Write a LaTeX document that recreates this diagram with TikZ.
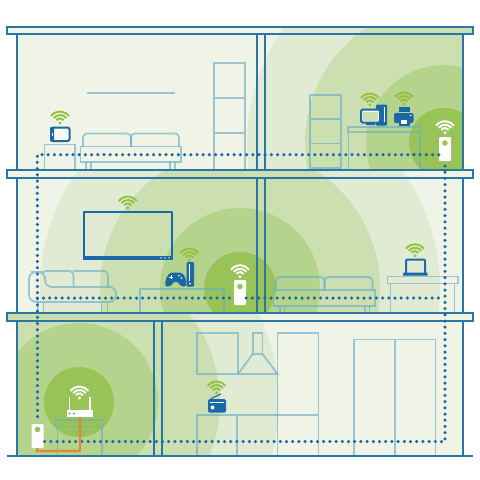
\documentclass[tikz,border=0pt]{standalone}
\usetikzlibrary{decorations.markings}
\definecolor{paleground}{HTML}{EFF4E6}
\definecolor{ringA}{HTML}{E1EBD3}
\definecolor{ringB}{HTML}{CCDFB0}
\definecolor{ringC}{HTML}{B4D38C}
\definecolor{ringD}{HTML}{97C357}
\definecolor{wallblue}{HTML}{2A76A6}
\definecolor{devblue}{HTML}{1A69A6}
\definecolor{furnblue}{HTML}{6BAEC6}
\definecolor{wifigreen}{HTML}{93C13E}
\definecolor{cableorange}{HTML}{E2883A}
\tikzset{
  wall/.style={draw=wallblue,line width=2pt},
  slab/.style={draw=wallblue,line width=2pt},
  furn/.style={draw=furnblue,draw opacity=.65,line width=1.8pt,line join=miter},
  gearline/.style={draw=devblue,line width=2pt,line join=round},
  plc/.style={fill=white,draw=none,rounded corners=1pt},
  powerline/.style={decorate,decoration={markings,
    mark=between positions 0 and 1 step 6.2pt with {\fill[devblue] (0,0) circle[radius=1.75pt];}}},
}
% Wi-Fi symbol: dot centre, colour
\newcommand{\wifisign}[3]{%
  \begin{scope}[shift={(#1,#2)},line cap=butt]
    \fill[#3] (0,0) circle[radius=1.6pt];
    \foreach \r in {4.6,8,11.4}
      \draw[#3,line width=1.9pt] (142:\r pt) arc[start angle=142,end angle=38,radius=\r pt];
  \end{scope}}
% Concentric coverage rings around a point
\newcommand{\coverage}[6]{%
  \fill[ringA] (#1,#2) circle[radius=#6 pt];
  \fill[ringB] (#1,#2) circle[radius=#5 pt];
  \fill[ringC] (#1,#2) circle[radius=#4 pt];
  \fill[ringD] (#1,#2) circle[radius=#3 pt];}
\begin{document}
\begin{tikzpicture}[x=1pt,y=-1pt]
\useasboundingbox (0,0) rectangle (480,480);
\fill[white] (0,0) rectangle (480,480);

% Building interior with the coverage of each storey
\begin{scope}
  \clip (6,26) rectangle (473,34) (16.5,34) rectangle (462.5,169);
  \fill[paleground] (0,0) rectangle (480,480);
  \coverage{444}{143}{35}{78}{139}{197}
\end{scope}
\begin{scope}
  \clip (6,169) rectangle (473,178) (16.5,178) rectangle (462.5,312);
  \fill[paleground] (0,0) rectangle (480,480);
  \coverage{240}{288}{36}{80}{140}{200}
\end{scope}
\begin{scope}
  \clip (6,312) rectangle (473,321) (16.5,321) rectangle (462.5,456);
  \fill[paleground] (0,0) rectangle (480,480);
  \coverage{79}{402}{35}{79}{141}{200}
\end{scope}

% Top storey furniture
\draw[furn] (87,93) -- (175,93);
\draw[furn] (44.5,169) -- (44.5,144.5) -- (75,144.5) -- (75,169);
\draw[furn] (80.5,146.5) rectangle (181,162);
\draw[furn,rounded corners=4pt] (83,146.5) -- (83,133.5) -- (131,133.5) -- (131,146.5);
\draw[furn,rounded corners=4pt] (131,146.5) -- (131,133.5) -- (179,133.5) -- (179,146.5);
\draw[furn] (86,162) -- (86,169) (91,162) -- (91,169) (170,162) -- (170,169) (175,162) -- (175,169);
\draw[furn] (214,169) -- (214,63) -- (245,63) -- (245,169) (214,98) -- (245,98) (214,133) -- (245,133);
\draw[furn] (310,168) rectangle (341,95) (310,119) -- (341,119) (310,143.5) -- (341,143.5);
\draw[furn] (348,127) rectangle (420.5,132) (348.5,132) -- (348.5,169) (420,132) -- (420,169);

% Middle storey furniture
\draw[furn,rounded corners=7pt] (38,272) -- (45,272) -- (45,287) -- (116,287) -- (116,302) -- (29,302) -- (29,272) -- cycle;
\draw[furn,rounded corners=4pt] (45,271) -- (73.5,271) -- (73.5,287);
\draw[furn,rounded corners=4pt] (73.5,271) -- (108,271) -- (108,287);
\draw[furn] (43.5,302) -- (43.5,312) (38,302) -- (38,312) (101.5,302) -- (101.5,312) (107.5,302) -- (107.5,312);
\draw[furn] (140,312) -- (140,289) -- (224,289) -- (224,312);
\draw[furn] (273.5,290) rectangle (375,306);
\draw[furn,rounded corners=4pt] (276,290) -- (276,277) -- (324.5,277) -- (324.5,290);
\draw[furn,rounded corners=4pt] (324.5,290) -- (324.5,277) -- (372.5,277) -- (372.5,290);
\draw[furn] (280,306) -- (280,312) (284.5,306) -- (284.5,312) (365,306) -- (365,312) (369.5,306) -- (369.5,312);
\draw[furn] (387.5,276.5) rectangle (458,283.5) (390.5,283.5) -- (390.5,312) (454.5,283.5) -- (454.5,312);

% Ground storey kitchen, wardrobe and router table
\draw[furn] (196.7,333) rectangle (238,374);
\draw[furn] (252.7,333) rectangle (262.5,354);
\draw[furn] (252.7,354) -- (238,374) -- (277.5,374) -- (262.5,354);
\draw[furn] (277.5,456) -- (277.5,333) -- (318.5,333) -- (318.5,456) (277.5,415) -- (318.5,415);
\draw[furn] (196.7,456) -- (196.7,415) -- (277.5,415) (237,415) -- (237,456);
\draw[furn] (354,456) -- (354,339.5) -- (435.5,339.5) -- (435.5,456) (394.7,339.5) -- (394.7,456);
\draw[furn] (56,420) rectangle (103.5,426.5) (57.5,426.5) -- (57.5,456) (102,426.5) -- (102,456);

% Walls
\draw[wall] (16.5,34) -- (16.5,169) (16.5,178) -- (16.5,312) (16.5,321) -- (16.5,456);
\draw[wall] (462.5,34) -- (462.5,169) (462.5,178) -- (462.5,312) (462.5,321) -- (462.5,456);
\draw[wall] (257,34) -- (257,169) (265,34) -- (265,169) (257,178) -- (257,312) (265,178) -- (265,312);
\draw[wall] (153.5,321) -- (153.5,456) (161.5,321) -- (161.5,456);

% Floor slabs and ground line
\draw[slab] (6.5,26.5) rectangle (473,34);
\draw[slab] (6.5,169.5) rectangle (473,178);
\draw[slab] (6.5,312.5) rectangle (473,320.5);
\draw[slab] (6.5,456) -- (473,456);

% Powerline adapters
\node[plc,minimum width=12pt,minimum height=24pt,inner sep=0pt] (plcTop) at (445,149) {};
\node[plc,minimum width=12pt,minimum height=25pt,inner sep=0pt] (plcMid) at (240,292.5) {};
\node[plc,minimum width=12pt,minimum height=24pt,inner sep=0pt] (plcBase) at (37.5,436) {};
\fill[ringD] (445,143) circle[radius=2.8pt] (240,286.5) circle[radius=2.8pt] (37.5,429.5) circle[radius=2.8pt];

% Wiring that joins the adapters
\coordinate (cornerTL) at (37.3,154.7);
\coordinate (cornerBR) at (445,441.5);
\coordinate (midL) at (37.3,298);
\coordinate (midR) at (445,298);
\path[powerline] (plcTop.west |- cornerTL) -- (cornerTL) -- (plcBase.north |- 0,421.5);
\path[powerline] (plcTop.south |- 0,166) -- (cornerBR) -- (plcBase.east |- cornerBR);
\path[powerline] (midL) -- (plcMid.west |- midL);
\path[powerline] (plcMid.east |- midR) -- (440,298);

% Router and cable
\coordinate (cableA) at (79.5,451);
\coordinate (cableB) at (37,451);
\node[fill=white,minimum width=26pt,minimum height=7pt,inner sep=0pt] (router) at (80,413.5) {};
\draw[cableorange,line width=2.4pt,line join=miter] (router.south |- 0,417) -- (cableA -| router.south) -- (cableB) -- (plcBase.south);
\draw[white,line width=1.2pt] (69.5,410) -- (69.5,397) (90,410) -- (90,397);
\fill[ringD!70!black] (69.5,413.7) circle[radius=1pt] (74,413.7) circle[radius=1pt];

% Tablet
\draw[gearline,fill=white,fill opacity=.55,rounded corners=2pt] (51,127.5) rectangle (69.5,141);
\fill[devblue,rounded corners=1pt] (50,127) rectangle (54,141.7);
\fill[white] (52,132.5) rectangle (52.7,136);

% Computer
\fill[devblue,rounded corners=1pt] (376,104.5) rectangle (387,125.7);
\draw[white,line width=.5pt] (384,107) -- (384,122);
\fill[white] (384.5,121) circle[radius=.7pt];
\draw[gearline,fill=white,rounded corners=1.5pt] (361,109.5) rectangle (380,122.5);
\fill[ringB] (363,111.5) rectangle (378,120.5);
\fill[devblue] (366,123) rectangle (375,125);

% Printer
\fill[devblue] (399,107) rectangle (409.5,112.3);
\fill[devblue,rounded corners=2pt] (394,113) rectangle (413.5,123);
\fill[devblue] (399,118) rectangle (409.5,126);
\fill[white] (401.2,119.5) rectangle (407.3,124);
\fill[white] (410.5,115.5) circle[radius=.8pt];

% Television
\draw[gearline,line width=1.6pt] (83.7,211.7) rectangle (172,259);
\fill[devblue] (83,256) rectangle (172.7,259.7);
\fill[white] (161,257.8) circle[radius=.8pt] (165,257.8) circle[radius=.8pt] (169,257.8) circle[radius=.8pt];

% Game console and controller
\fill[devblue,rounded corners=1pt] (186.7,262) rectangle (194,286.7);
\fill[white] (188.5,264) rectangle (189.3,281);
\fill[white] (190,283.5) circle[radius=1pt];
\fill[devblue] (172,272.5) -- (180,272.5) .. controls (184.5,272.5) and (187.5,282) .. (186,285.5)
  .. controls (184,288) and (180,286) .. (177.5,282) -- (174,282)
  .. controls (171.5,286) and (167,288) .. (165.5,285.5) .. controls (164,282) and (167.5,272.5) .. (172,272.5) -- cycle;
\draw[white,line width=.8pt] (169,277) -- (173,277) (171,275) -- (171,279);
\fill[white] (179,275.7) circle[radius=.8pt] (181.5,278) circle[radius=.8pt];

% Laptop
\draw[gearline,rounded corners=1pt] (406,273) -- (406,259.5) -- (425,259.5) -- (425,273);
\fill[devblue,rounded corners=.5pt] (403,272.5) rectangle (427.5,275.5);

% Radio
\draw[devblue,line width=1.1pt] (211,398.5) -- (221,394);
\fill[devblue,rounded corners=1.5pt] (208,399) rectangle (226,412.5);
\fill[white] (212.5,407.5) circle[radius=2pt];
\fill[white] (210,402) rectangle (224,402.8);

% Wi-Fi symbols
\wifisign{60}{123}{wifigreen}
\wifisign{370}{105}{wifigreen}
\wifisign{404}{104}{wifigreen}
\wifisign{445}{132.7}{white}
\wifisign{127.7}{208}{wifigreen}
\wifisign{189.5}{260}{wifigreen}
\wifisign{240}{276.7}{white}
\wifisign{415}{255.7}{wifigreen}
\wifisign{79.5}{398}{white}
\wifisign{216.7}{393}{wifigreen}
\end{tikzpicture}
\end{document}
